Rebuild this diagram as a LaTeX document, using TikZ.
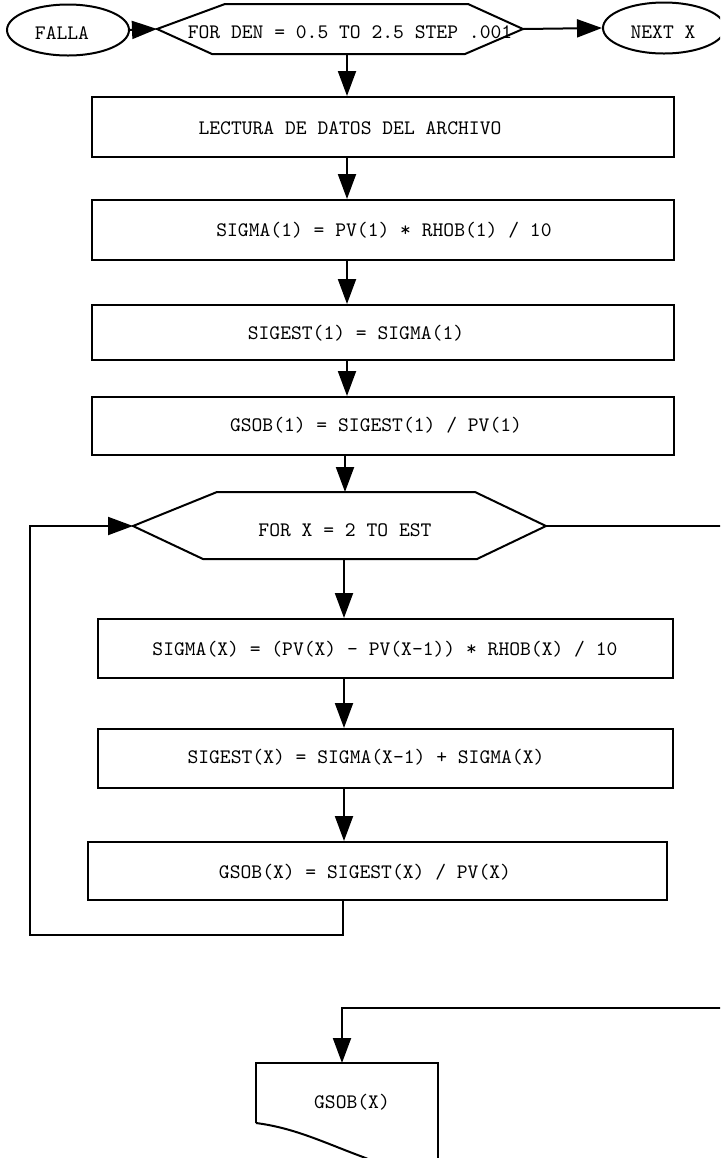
\documentclass[tikz,border=0pt]{standalone}
\usetikzlibrary{arrows.meta,shapes.geometric}
\begin{document}
\begin{tikzpicture}[x=0.5pt,y=-0.5pt,
  line width=1pt,
  every node/.style={font=\ttfamily\fontsize{10.3}{11}\selectfont, inner sep=0pt},
  procbox/.style={draw, rectangle, minimum width=#1},
  oval/.style={draw, ellipse, minimum width=61pt, minimum height=25.5pt},
  arr/.style={-{Triangle[length=12.5pt,width=9pt]}},
  txt/.style={anchor=center}
]
\useasboundingbox (0,0) rectangle (720,1158);
\clip (0,0) rectangle (720,1158);

% top row
\node[oval] (falla) at (68,30) {};
\node[txt] (fallat) at (62,33) {FALLA};
\node[oval] (next) at (664,28) {};
\node[txt] (nextt) at (663,32) {NEXT X};

\coordinate (h1l) at (157,29);
\coordinate (h1r) at (523,29);
\coordinate (h1b) at (347,54);
\draw (h1l) -- (225,4) -- (468,4) -- (h1r) -- (465,54) -- (212,54) -- cycle;
\node[txt] (h1t) at (350,32) {FOR DEN = 0.5 TO 2.5 STEP .001};

\draw[arr] (falla.east) -- (h1l);
\draw[arr] (h1r) -- (next.west);

% boxes
\node[procbox=291pt, minimum height=30pt] (b1) at (383,127) {};
\node[txt] (t1) at (350,128) {LECTURA DE DATOS DEL ARCHIVO};
\node[procbox=291pt, minimum height=30pt] (b2) at (383,230) {};
\node[txt] (t2) at (384,230) {SIGMA(1) = PV(1) * RHOB(1) / 10};
\node[procbox=291pt, minimum height=27.5pt] (b3) at (383,332.5) {};
\node[txt] (t3) at (356,333) {SIGEST(1) = SIGMA(1)};
\node[procbox=291pt, minimum height=29pt] (b4) at (383,426) {};
\node[txt] (t4) at (376,425) {GSOB(1) = SIGEST(1) / PV(1)};

\draw[arr] (h1b) -- (h1b |- b1.north);
\draw[arr] (b1.south -| h1b) -- (b2.north -| h1b);
\draw[arr] (b2.south -| h1b) -- (b3.north -| h1b);
\draw[arr] (b3.south -| h1b) -- (b4.north -| h1b);

% second loop hexagon
\coordinate (h2l) at (133,526);
\coordinate (h2r) at (546,526);
\coordinate (h2t) at (345,492);
\coordinate (h2b) at (344,559);
\draw (h2l) -- (217,492) -- (475,492) -- (h2r) -- (477,559) -- (203,559) -- cycle;
\node[txt] (h2text) at (345,530) {FOR X = 2 TO EST};
\draw[arr] (b4.south -| h2t) -- (h2t);

\node[procbox=287.5pt, minimum height=29.5pt] (b5) at (385.5,648.5) {};
\node[txt] (t5) at (385,649) {SIGMA(X) = (PV(X) - PV(X-1)) * RHOB(X) / 10};
\node[procbox=287.5pt, minimum height=29.5pt] (b6) at (385.5,758.5) {};
\node[txt] (t6) at (366,757) {SIGEST(X) = SIGMA(X-1) + SIGMA(X)};
\node[procbox=289.5pt, minimum height=29pt] (b7) at (377.5,871) {};
\node[txt] (t7) at (365,872) {GSOB(X) = SIGEST(X) / PV(X)};

\draw[arr] (h2b) -- (h2b |- b5.north);
\draw[arr] (b5.south -| h2b) -- (b6.north -| h2b);
\draw[arr] (b6.south -| h2b) -- (b7.north -| h2b);

% loop back
\coordinate (lb) at (343,935);
\coordinate (ll) at (30,935);
\draw[arr] (b7.south -| lb) -- (lb) -- (ll) -- (ll |- h2l) -- (h2l);

% exit to the right
\coordinate (exitr) at (724,526);
\draw (h2r) -- (exitr);

% bottom document
\coordinate (inr) at (724,1008);
\coordinate (inb) at (342,1008);
\coordinate (doctop) at (342,1063);
\draw (256,1123) -- (256,1063) -- (438,1063) -- (438,1170);
\draw (256,1123) .. controls (295,1128) and (325,1143) .. (363,1157) .. controls (385,1166) and (400,1170) .. (420,1172);
\node[txt] (doc) at (352,1102) {GSOB(X)};
\draw[arr] (inr) -- (inb) -- (doctop);
\end{tikzpicture}
\end{document}
